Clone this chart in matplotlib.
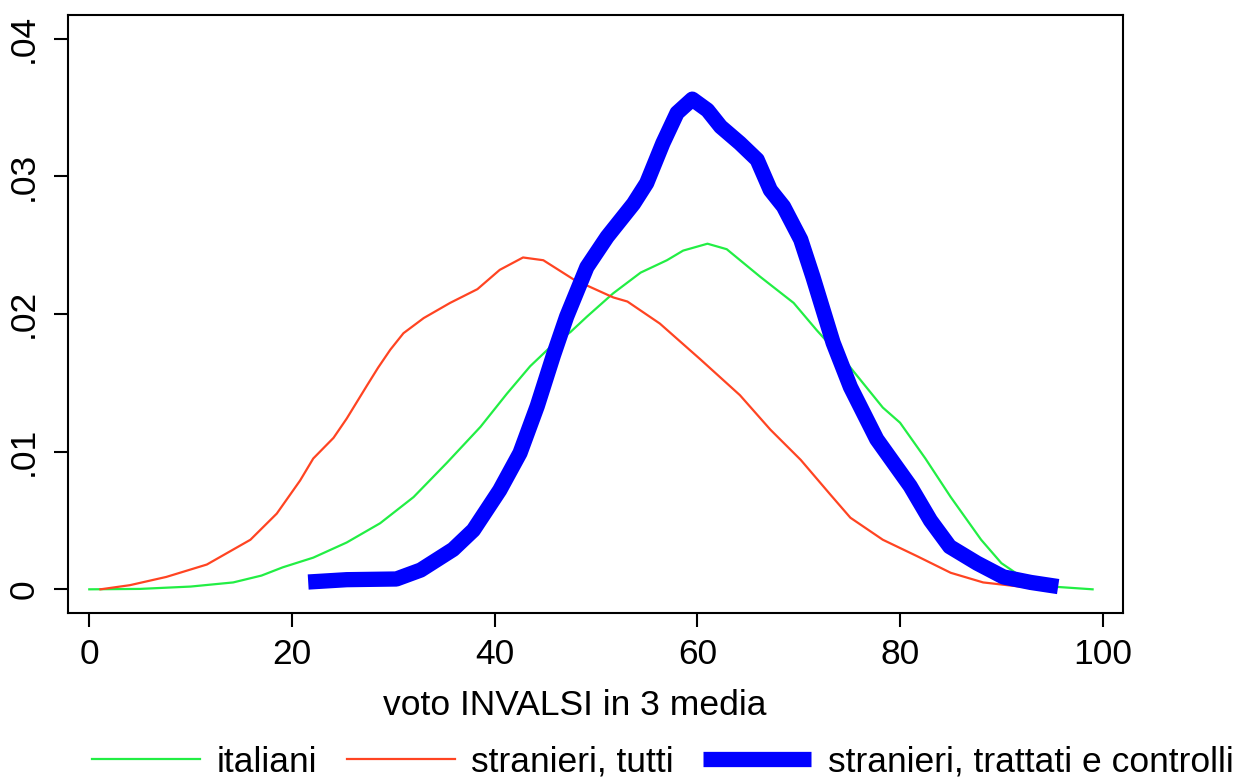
import matplotlib.pyplot as plt

plt.rcParams['font.family'] = ['Liberation Sans', 'DejaVu Sans']

# italiani
ita_x = [0, 5, 10, 14.2, 17, 19.1, 22.1, 25.4, 28.7, 32, 35.3, 38.6, 41.2, 43.5, 45.5, 47.5,
         49.1, 51.7, 54.4, 57, 58.6, 61, 62.9, 66.2, 69.5, 71.8, 75, 78.3, 80, 82.5, 85, 88,
         90, 92, 95, 99]
ita_y = [0, 0.00003, 0.0002, 0.0005, 0.0010, 0.0016, 0.0023, 0.0034, 0.0048, 0.0067, 0.0092,
         0.0118, 0.0142, 0.0162, 0.0176, 0.0187, 0.0198, 0.0215, 0.0230, 0.0239, 0.0246, 0.0251,
         0.0247, 0.0227, 0.0208, 0.0188, 0.0162, 0.0132, 0.0121, 0.0095, 0.0067, 0.0036, 0.0019,
         0.0009, 0.0002, 0.0]

# stranieri, tutti
str_x = [1.1, 4, 7.6, 11.6, 15.9, 18.5, 20.8, 22.1, 24.1, 25.4, 26.4, 27.4, 28.5, 29.7, 31,
         33, 35.6, 38.3, 40.5, 42.8, 44.8, 47.8, 51.7, 53.1, 56.3, 60.3, 64.2, 67.2, 70.2, 73.1,
         75.1, 78.3, 81.7, 85, 88.2, 90.6, 93]
str_y = [0.0, 0.0003, 0.0009, 0.0018, 0.0036, 0.0055, 0.0079, 0.0095, 0.0110, 0.0124, 0.0136,
         0.0148, 0.0161, 0.0174, 0.0186, 0.0197, 0.0208, 0.0218, 0.0232, 0.0241, 0.0239, 0.0225,
         0.0212, 0.0209, 0.0193, 0.0167, 0.0141, 0.0116, 0.0094, 0.0069, 0.0052, 0.0036, 0.0024,
         0.0012, 0.0005, 0.0003, 0.0001]

# stranieri, trattati e controlli
tc_x = [21.6, 25.4, 30.3, 32.7, 35.9, 37.9, 40.5, 42.5, 44.2, 45.8, 47.1, 49.1, 51.1, 53.7, 55,
        56.6, 58, 59.5, 61, 62.3, 64.2, 65.9, 67.2, 68.5, 70.2, 71.4, 73.4, 75.1, 77.7, 81, 83,
        84.9, 87.6, 90.2, 92.9, 95.6]
tc_y = [0.00053, 0.0007, 0.00075, 0.0014, 0.0029, 0.0043, 0.0072, 0.0099, 0.0133, 0.0170, 0.0198,
        0.0234, 0.0256, 0.0280, 0.0295, 0.0324, 0.0346, 0.0356, 0.0348, 0.0336, 0.0324, 0.0312,
        0.0290, 0.0278, 0.0254, 0.0227, 0.0179, 0.0147, 0.0109, 0.0075, 0.0050, 0.0031, 0.0019,
        0.0009, 0.0005, 0.0002]

fig = plt.figure(figsize=(12.36, 7.79), dpi=100)
ax = fig.add_axes([68 / 1236, 1 - 613 / 779, (1123 - 68) / 1236, (613 - 15) / 779])

ax.plot(ita_x, ita_y, color='#22ee44', lw=1.6, label='italiani')
ax.plot(str_x, str_y, color='#ff4422', lw=1.6, label='stranieri, tutti')
ax.plot(tc_x, tc_y, color='#0000ff', lw=11, solid_capstyle='butt', solid_joinstyle='round',
        label='stranieri, trattati e controlli')

ax.set_xlim(-2.1, 102.0)
ax.set_ylim(-0.00172, 0.04171)
ax.set_xticks([0, 20, 40, 60, 80, 100])
ax.set_yticks([0, 0.01, 0.02, 0.03, 0.04])
ax.set_yticklabels(['0', '.01', '.02', '.03', '.04'], rotation=90, va='center')

for s in ax.spines.values():
    s.set_linewidth(1.5)
ax.tick_params(length=10, width=1.5, labelsize=25.5)
ax.tick_params(axis='x', pad=8)
ax.tick_params(axis='y', pad=10)

ax.set_xlabel('voto INVALSI in 3 media', fontsize=25.5)
ax.xaxis.set_label_coords(0.48, -0.127)

fig.legend(loc='center', bbox_to_anchor=(663 / 1236, 1 - 762 / 779), ncol=3, frameon=False,
           fontsize=25.5, handlelength=3.05, handletextpad=0.47, columnspacing=0.83,
           borderpad=0, borderaxespad=0)

fig.savefig('out.png', dpi=100)
